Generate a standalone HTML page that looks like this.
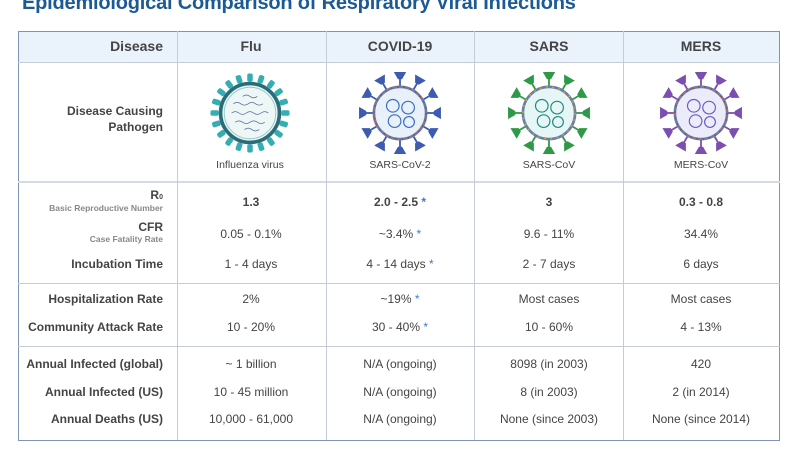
<!DOCTYPE html>
<html><head><meta charset="utf-8"><style>
*{margin:0;padding:0;box-sizing:border-box}
body{width:800px;height:450px;background:#fff;position:relative;overflow:hidden;font-family:"Liberation Sans",sans-serif;color:#444}
.t{position:absolute;white-space:nowrap}
.title{left:22px;top:-8px;font-size:20px;font-weight:bold;color:#1d5a94;letter-spacing:-0.2px}
.r{text-align:right;right:637px;font-weight:bold;font-size:12px;color:#444}
.c{text-align:center;font-size:12px;color:#444;transform:translateX(-50%)}
.sub{font-size:8.5px;color:#888;font-weight:bold}
.b{font-weight:bold}
.s{color:#3a7bd5}
.hl{position:absolute;height:1px;background:#c5ccd8;left:18px;width:762px}
.vl{position:absolute;width:1px;background:#c5ccd8;top:31px;height:409px}
</style></head><body>
<div class="t title">Epidemiological Comparison of Respiratory Viral Infections</div>
<div style="position:absolute;left:18px;top:31px;width:762px;height:32px;background:#eaf2fb"></div>
<div style="position:absolute;left:18px;top:31px;width:762px;height:410px;border:1.5px solid #7f93b8"></div>
<div class="hl" style="top:62px"></div>
<div class="hl" style="top:181px;height:2px;background:#d5dbe4"></div>
<div class="hl" style="top:283px"></div>
<div class="hl" style="top:346px"></div>
<div class="vl" style="left:177px"></div>
<div class="vl" style="left:326px"></div>
<div class="vl" style="left:474px"></div>
<div class="vl" style="left:623px"></div>

<div class="t r" style="top:38px;font-size:14px">Disease</div>
<div class="t c b" style="left:251px;top:38px;font-size:14px">Flu</div>
<div class="t c b" style="left:400px;top:38px;font-size:14px">COVID-19</div>
<div class="t c b" style="left:549px;top:38px;font-size:14px">SARS</div>
<div class="t c b" style="left:701px;top:38px;font-size:14px">MERS</div>

<div class="t r" style="top:103px;line-height:16px">Disease Causing<br>Pathogen</div>
<div class="t c" style="left:250px;top:159px;font-size:10.5px">Influenza virus</div>
<div class="t c" style="left:400px;top:159px;font-size:10.5px">SARS-CoV-2</div>
<div class="t c" style="left:549px;top:159px;font-size:10.5px">SARS-CoV</div>
<div class="t c" style="left:701px;top:159px;font-size:10.5px">MERS-CoV</div>

<svg style="position:absolute;left:0;top:0" width="800" height="450">
<defs>
<g id="fs"><rect x="-3" y="-43" width="6" height="9" rx="2" fill="#34aeb0"/></g>
<g id="cs"><line x1="0" y1="-30" x2="0" y2="-38" stroke-width="2"/><path d="M-6,-45 L6,-45 L2,-38 L-2,-38Z"/></g>
</defs>
<g transform="translate(250,113) scale(0.92)">
<g fill="#34aeb0">
<use href="#fs" transform="rotate(0)"/><use href="#fs" transform="rotate(18)"/><use href="#fs" transform="rotate(36)"/><use href="#fs" transform="rotate(54)"/><use href="#fs" transform="rotate(72)"/><use href="#fs" transform="rotate(90)"/><use href="#fs" transform="rotate(108)"/><use href="#fs" transform="rotate(126)"/><use href="#fs" transform="rotate(144)"/><use href="#fs" transform="rotate(162)"/><use href="#fs" transform="rotate(180)"/><use href="#fs" transform="rotate(198)"/><use href="#fs" transform="rotate(216)"/><use href="#fs" transform="rotate(234)"/><use href="#fs" transform="rotate(252)"/><use href="#fs" transform="rotate(270)"/><use href="#fs" transform="rotate(288)"/><use href="#fs" transform="rotate(306)"/><use href="#fs" transform="rotate(324)"/><use href="#fs" transform="rotate(342)"/>
</g>
<circle r="32" fill="#eef6f6" stroke="#2a6d78" stroke-width="4"/>
<circle r="28" fill="none" stroke="#8fc9cc" stroke-width="1"/>
<g stroke="#556a9e" fill="none" stroke-width="0.8">
<path d="M-18,-10 q4,-3 8,0 t8,0 t8,0 t8,0"/><path d="M-20,0 q4,-3 8,0 t8,0 t8,0 t8,0 t8,0"/><path d="M-16,10 q4,-3 8,0 t8,0 t8,0 t8,0"/><path d="M-8,-18 q4,-3 8,0 t8,0"/><path d="M-6,18 q4,-3 8,0 t8,0"/>
</g>
</g>
<g transform="translate(400,113) scale(0.9)" fill="#3d5bb0" stroke="#3d5bb0">
<use href="#cs" transform="rotate(0)"/><use href="#cs" transform="rotate(30)"/><use href="#cs" transform="rotate(60)"/><use href="#cs" transform="rotate(90)"/><use href="#cs" transform="rotate(120)"/><use href="#cs" transform="rotate(150)"/><use href="#cs" transform="rotate(180)"/><use href="#cs" transform="rotate(210)"/><use href="#cs" transform="rotate(240)"/><use href="#cs" transform="rotate(270)"/><use href="#cs" transform="rotate(300)"/><use href="#cs" transform="rotate(330)"/>
<circle r="29" fill="#e8f0fa" stroke="#6a7fa8" stroke-width="3"/>
<circle r="29" fill="none" stroke="#c0392b" stroke-width="1.5" stroke-dasharray="2 5"/>
<g fill="none" stroke="#3a6cc0" stroke-width="1.3"><circle cx="-8" cy="-8" r="7"/><circle cx="9" cy="-6" r="7"/><circle cx="-6" cy="9" r="7"/><circle cx="10" cy="10" r="6"/></g>
</g>
<g transform="translate(549,113) scale(0.9)" fill="#2e9a48" stroke="#2e9a48">
<use href="#cs" transform="rotate(0)"/><use href="#cs" transform="rotate(30)"/><use href="#cs" transform="rotate(60)"/><use href="#cs" transform="rotate(90)"/><use href="#cs" transform="rotate(120)"/><use href="#cs" transform="rotate(150)"/><use href="#cs" transform="rotate(180)"/><use href="#cs" transform="rotate(210)"/><use href="#cs" transform="rotate(240)"/><use href="#cs" transform="rotate(270)"/><use href="#cs" transform="rotate(300)"/><use href="#cs" transform="rotate(330)"/>
<circle r="29" fill="#e6f5f5" stroke="#6a7fa8" stroke-width="3"/>
<circle r="29" fill="none" stroke="#e0a020" stroke-width="1.5" stroke-dasharray="2 5"/>
<g fill="none" stroke="#1f8a80" stroke-width="1.3"><circle cx="-8" cy="-8" r="7"/><circle cx="9" cy="-6" r="7"/><circle cx="-6" cy="9" r="7"/><circle cx="10" cy="10" r="6"/></g>
</g>
<g transform="translate(701,113) scale(0.9)" fill="#7a4fb0" stroke="#7a4fb0">
<use href="#cs" transform="rotate(0)"/><use href="#cs" transform="rotate(30)"/><use href="#cs" transform="rotate(60)"/><use href="#cs" transform="rotate(90)"/><use href="#cs" transform="rotate(120)"/><use href="#cs" transform="rotate(150)"/><use href="#cs" transform="rotate(180)"/><use href="#cs" transform="rotate(210)"/><use href="#cs" transform="rotate(240)"/><use href="#cs" transform="rotate(270)"/><use href="#cs" transform="rotate(300)"/><use href="#cs" transform="rotate(330)"/>
<circle r="29" fill="#ecebfa" stroke="#6a7fa8" stroke-width="3"/>
<circle r="29" fill="none" stroke="#c0392b" stroke-width="1.5" stroke-dasharray="2 5"/>
<g fill="none" stroke="#6a5cc0" stroke-width="1.3"><circle cx="-8" cy="-8" r="7"/><circle cx="9" cy="-6" r="7"/><circle cx="-6" cy="9" r="7"/><circle cx="10" cy="10" r="6"/></g>
</g>
</svg>

<div class="t r" style="top:188px">R<span style="font-size:7px">0</span></div>
<div class="t r sub" style="top:203px">Basic Reproductive Number</div>
<div class="t r" style="top:220px">CFR</div>
<div class="t r sub" style="top:234px">Case Fatality Rate</div>
<div class="t r" style="top:257px">Incubation Time</div>
<div class="t r" style="top:292px">Hospitalization Rate</div>
<div class="t r" style="top:320px">Community Attack Rate</div>
<div class="t r" style="top:357px">Annual Infected (global)</div>
<div class="t r" style="top:385px">Annual Infected (US)</div>
<div class="t r" style="top:412px">Annual Deaths (US)</div>

<div class="t c b" style="left:251px;top:195px">1.3</div>
<div class="t c b" style="left:400px;top:195px">2.0 - 2.5 <span class="s">*</span></div>
<div class="t c b" style="left:549px;top:195px">3</div>
<div class="t c b" style="left:701px;top:195px">0.3 - 0.8</div>

<div class="t c" style="left:251px;top:227px">0.05 - 0.1%</div>
<div class="t c" style="left:400px;top:227px">~3.4% <span class="s">*</span></div>
<div class="t c" style="left:549px;top:227px">9.6 - 11%</div>
<div class="t c" style="left:701px;top:227px">34.4%</div>

<div class="t c" style="left:251px;top:257px">1 - 4 days</div>
<div class="t c" style="left:400px;top:257px">4 - 14 days <span class="s">*</span></div>
<div class="t c" style="left:549px;top:257px">2 - 7 days</div>
<div class="t c" style="left:701px;top:257px">6 days</div>

<div class="t c" style="left:251px;top:292px">2%</div>
<div class="t c" style="left:400px;top:292px">~19% <span class="s">*</span></div>
<div class="t c" style="left:549px;top:292px">Most cases</div>
<div class="t c" style="left:701px;top:292px">Most cases</div>

<div class="t c" style="left:251px;top:320px">10 - 20%</div>
<div class="t c" style="left:400px;top:320px">30 - 40% <span class="s">*</span></div>
<div class="t c" style="left:549px;top:320px">10 - 60%</div>
<div class="t c" style="left:701px;top:320px">4 - 13%</div>

<div class="t c" style="left:251px;top:357px">~ 1 billion</div>
<div class="t c" style="left:400px;top:357px">N/A (ongoing)</div>
<div class="t c" style="left:549px;top:357px">8098 (in 2003)</div>
<div class="t c" style="left:701px;top:357px">420</div>

<div class="t c" style="left:251px;top:385px">10 - 45 million</div>
<div class="t c" style="left:400px;top:385px">N/A (ongoing)</div>
<div class="t c" style="left:549px;top:385px">8 (in 2003)</div>
<div class="t c" style="left:701px;top:385px">2 (in 2014)</div>

<div class="t c" style="left:251px;top:412px">10,000 - 61,000</div>
<div class="t c" style="left:400px;top:412px">N/A (ongoing)</div>
<div class="t c" style="left:549px;top:412px">None (since 2003)</div>
<div class="t c" style="left:701px;top:412px">None (since 2014)</div>
</body></html>
